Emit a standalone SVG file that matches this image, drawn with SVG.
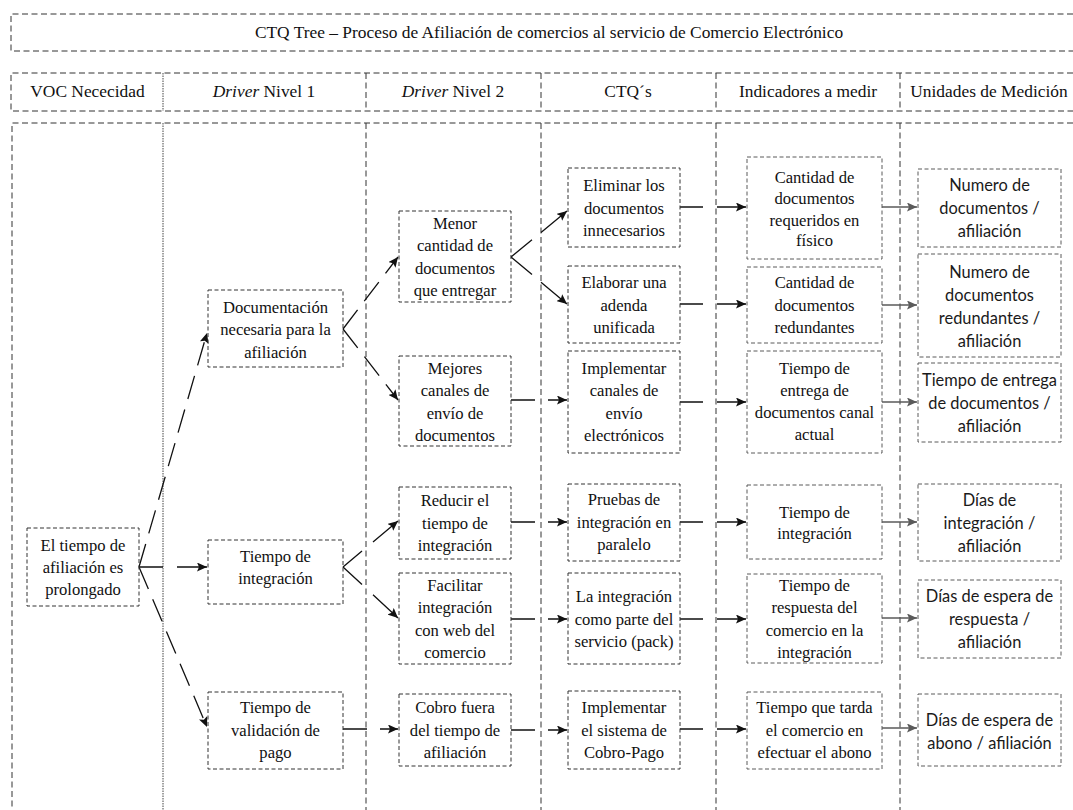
<svg xmlns="http://www.w3.org/2000/svg" width="1073" height="810" viewBox="0 0 1073 810">
  <style>
    .grid { fill: none; stroke: #333; stroke-width: 1; stroke-dasharray: 6 3.5; }
    .gridd { fill: none; stroke: #444; stroke-width: 1; stroke-dasharray: 1.5 1; }
    .box { fill: none; stroke: #333; stroke-width: 1; stroke-dasharray: 4 2.5; }
    .boxg { fill: none; stroke: #5a5a5a; stroke-width: 1; stroke-dasharray: 4 2.5; }
    .t { font-family: "Liberation Serif", "Times New Roman", serif; font-size: 16.6px; fill: #111; text-anchor: middle; }
    .h { font-family: "Liberation Serif", "Times New Roman", serif; font-size: 17.4px; fill: #111; text-anchor: middle; }
    .s { font-family: Lato, "Liberation Sans", sans-serif; font-size: 16.4px; fill: #1a1a1a; text-anchor: middle; }
    .c { fill: none; stroke: #111; stroke-width: 1.3; }
    .cl { fill: none; stroke: #111; stroke-width: 1.3; stroke-dasharray: 24 11; }
    .cg { fill: none; stroke: #5a5a5a; stroke-width: 1.3; }
  </style>
  <defs>
    <marker id="ah" markerUnits="userSpaceOnUse" markerWidth="11" markerHeight="9" refX="10" refY="4.5" orient="auto">
      <path d="M0,0 L10,4.5 L0,9 L2,4.5 z" fill="#111"/>
    </marker>
    <marker id="ahg" markerUnits="userSpaceOnUse" markerWidth="11" markerHeight="9" refX="10" refY="4.5" orient="auto">
      <path d="M0,0 L10,4.5 L0,9 L2,4.5 z" fill="#5a5a5a"/>
    </marker>
  </defs>
  <rect width="1073" height="810" fill="#fff"/>

  <!-- title band -->
  <g id="title">
    <path class="grid" d="M1073,14 H11 V51 H1073"/>
    <text class="h" x="549" y="38">CTQ Tree – Proceso de Afiliación de comercios al servicio de Comercio Electrónico</text>
  </g>

  <!-- column headers -->
  <g id="header">
    <path class="grid" d="M1073,73 H11 V111 H1073"/>
    <path class="gridd" d="M163,73 V111"/>
    <path class="grid" d="M366,73 V111 M541,73 V111 M716,73 V111 M900,73 V111"/>
    <text class="h" x="87.5" y="97">VOC Nececidad</text>
    <text class="h" x="264" y="97"><tspan font-style="italic">Driver</tspan> Nivel 1</text>
    <text class="h" x="453" y="97"><tspan font-style="italic">Driver</tspan> Nivel 2</text>
    <text class="h" x="628" y="97">CTQ´s</text>
    <text class="h" x="808" y="97">Indicadores a medir</text>
    <text class="h" x="989" y="97">Unidades de Medición</text>
  </g>

  <!-- body columns -->
  <g id="columns">
    <path class="grid" d="M1073,123 H12 V810"/>
    <path class="gridd" d="M163,123 V810"/>
    <path class="grid" d="M366,123 V810 M541,123 V810 M716,123 V810 M900,123 V810"/>
  </g>

  <!-- connectors -->
  <g id="connectors">
    <path class="cl" d="M139,567 L207,333" marker-end="url(#ah)"/>
    <path class="c" d="M139,567 H163 M177,567 H207" marker-end="url(#ah)"/>
    <path class="cl" d="M139,567 L207,727" marker-end="url(#ah)"/>

    <path class="cl" d="M343,329 L398,257" marker-end="url(#ah)"/>
    <path class="cl" d="M343,329 L398,400" marker-end="url(#ah)"/>
    <path class="c" d="M343,567 L362,551.1 M373,541.9 L398,521" marker-end="url(#ah)"/>
    <path class="c" d="M343,567 L362,584.6 M373,594.8 L398,618" marker-end="url(#ah)"/>
    <path class="c" d="M343,729 H367 M380,729 H398" marker-end="url(#ah)"/>

    <path class="c" d="M511,257 L532,239.8 M541,232.4 L567,211" marker-end="url(#ah)"/>
    <path class="c" d="M511,257 L532,274.6 M541,282.2 L567,304" marker-end="url(#ah)"/>
    <path class="c" d="M511,400 H535 M548,400 H567" marker-end="url(#ah)"/>
    <path class="c" d="M511,522 H535 M548,522 H567" marker-end="url(#ah)"/>
    <path class="c" d="M511,619 H535 M548,619 H567" marker-end="url(#ah)"/>
    <path class="c" d="M511,730 H535 M548,730 H567" marker-end="url(#ah)"/>

    <path class="c" d="M680,207 H703 M717,207 H746" marker-end="url(#ah)"/>
    <path class="c" d="M680,304 H703 M717,304 H746" marker-end="url(#ah)"/>
    <path class="c" d="M680,402 H703 M717,402 H746" marker-end="url(#ah)"/>
    <path class="c" d="M680,522 H703 M717,522 H746" marker-end="url(#ah)"/>
    <path class="c" d="M680,619 H703 M717,619 H746" marker-end="url(#ah)"/>
    <path class="c" d="M680,729 H703 M717,729 H746" marker-end="url(#ah)"/>

    <path class="cg" d="M882,207 H917" marker-end="url(#ahg)"/>
    <path class="cg" d="M882,305 H917" marker-end="url(#ahg)"/>
    <path class="cg" d="M882,402 H917" marker-end="url(#ahg)"/>
    <path class="cg" d="M882,522 H917" marker-end="url(#ahg)"/>
    <path class="cg" d="M882,618 H917" marker-end="url(#ahg)"/>
    <path class="cg" d="M882,728 H917" marker-end="url(#ahg)"/>
  </g>

  <!-- VOC -->
  <g id="voc">
    <rect class="box" x="27" y="528" width="112" height="78"/>
    <text class="t"><tspan x="83" y="550.5">El tiempo de</tspan><tspan x="83" y="572.5">afiliación es</tspan><tspan x="83" y="595">prolongado</tspan></text>
  </g>

  <!-- Driver nivel 1 -->
  <g id="d1-documentacion">
    <rect class="box" x="208" y="290" width="135" height="77"/>
    <text class="t"><tspan x="275.5" y="313">Documentación</tspan><tspan x="275.5" y="335.2">necesaria para la</tspan><tspan x="275.5" y="357.5">afiliación</tspan></text>
  </g>
  <g id="d1-integracion">
    <rect class="box" x="208" y="540" width="135" height="64"/>
    <text class="t"><tspan x="275.5" y="562">Tiempo de</tspan><tspan x="275.5" y="584">integración</tspan></text>
  </g>
  <g id="d1-validacion">
    <rect class="box" x="208" y="692" width="135" height="77"/>
    <text class="t"><tspan x="275.5" y="713.2">Tiempo de</tspan><tspan x="275.5" y="735.5">validación de</tspan><tspan x="275.5" y="757.8">pago</tspan></text>
  </g>

  <!-- Driver nivel 2 -->
  <g id="d2-menor">
    <rect class="box" x="399" y="211" width="112" height="91"/>
    <text class="t"><tspan x="455" y="229">Menor</tspan><tspan x="455" y="251.3">cantidad de</tspan><tspan x="455" y="273.7">documentos</tspan><tspan x="455" y="296">que entregar</tspan></text>
  </g>
  <g id="d2-mejores">
    <rect class="box" x="399" y="356" width="112" height="90"/>
    <text class="t"><tspan x="455" y="374">Mejores</tspan><tspan x="455" y="396.4">canales de</tspan><tspan x="455" y="418.7">envío de</tspan><tspan x="455" y="441">documentos</tspan></text>
  </g>
  <g id="d2-reducir">
    <rect class="box" x="399" y="487" width="112" height="72"/>
    <text class="t"><tspan x="455" y="506.2">Reducir el</tspan><tspan x="455" y="528.5">tiempo de</tspan><tspan x="455" y="550.8">integración</tspan></text>
  </g>
  <g id="d2-facilitar">
    <rect class="box" x="399" y="573" width="112" height="91"/>
    <text class="t"><tspan x="455" y="591">Facilitar</tspan><tspan x="455" y="613.4">integración</tspan><tspan x="455" y="635.7">con web del</tspan><tspan x="455" y="658">comercio</tspan></text>
  </g>
  <g id="d2-cobro">
    <rect class="box" x="399" y="694" width="112" height="72"/>
    <text class="t"><tspan x="455" y="713.2">Cobro fuera</tspan><tspan x="455" y="735.5">del tiempo de</tspan><tspan x="455" y="757.8">afiliación</tspan></text>
  </g>

  <!-- CTQs -->
  <g id="ctq-eliminar">
    <rect class="box" x="568" y="168" width="112" height="79"/>
    <text class="t"><tspan x="624" y="191.2">Eliminar los</tspan><tspan x="624" y="213.5">documentos</tspan><tspan x="624" y="235.8">innecesarios</tspan></text>
  </g>
  <g id="ctq-adenda">
    <rect class="box" x="568" y="266" width="112" height="77"/>
    <text class="t"><tspan x="624" y="288.2">Elaborar una</tspan><tspan x="624" y="310.5">adenda</tspan><tspan x="624" y="332.8">unificada</tspan></text>
  </g>
  <g id="ctq-canales">
    <rect class="box" x="568" y="351" width="112" height="102"/>
    <text class="t"><tspan x="624" y="374">Implementar</tspan><tspan x="624" y="396.4">canales de</tspan><tspan x="624" y="418.7">envío</tspan><tspan x="624" y="441">electrónicos</tspan></text>
  </g>
  <g id="ctq-pruebas">
    <rect class="box" x="568" y="484" width="112" height="77"/>
    <text class="t"><tspan x="624" y="505.2">Pruebas de</tspan><tspan x="624" y="527.5">integración en</tspan><tspan x="624" y="549.8">paralelo</tspan></text>
  </g>
  <g id="ctq-pack">
    <rect class="box" x="568" y="573" width="112" height="91"/>
    <text class="t"><tspan x="624" y="602.2">La integración</tspan><tspan x="624" y="624.5">como parte del</tspan><tspan x="624" y="646.8">servicio (pack)</tspan></text>
  </g>
  <g id="ctq-cobropago">
    <rect class="box" x="568" y="691" width="112" height="78"/>
    <text class="t"><tspan x="624" y="713.2">Implementar</tspan><tspan x="624" y="735.5">el sistema de</tspan><tspan x="624" y="757.8">Cobro-Pago</tspan></text>
  </g>

  <!-- Indicadores -->
  <g id="ind-fisico">
    <rect class="boxg" x="747" y="157" width="135" height="102"/>
    <text class="t"><tspan x="814.5" y="182.5">Cantidad de</tspan><tspan x="814.5" y="204">documentos</tspan><tspan x="814.5" y="225.5">requeridos en</tspan><tspan x="814.5" y="246">físico</tspan></text>
  </g>
  <g id="ind-redundantes">
    <rect class="boxg" x="747" y="267" width="135" height="76"/>
    <text class="t"><tspan x="814.5" y="288.2">Cantidad de</tspan><tspan x="814.5" y="310.5">documentos</tspan><tspan x="814.5" y="332.8">redundantes</tspan></text>
  </g>
  <g id="ind-entrega">
    <rect class="boxg" x="747" y="351" width="135" height="102"/>
    <text class="t"><tspan x="814.5" y="373.5">Tiempo de</tspan><tspan x="814.5" y="395.5">entrega de</tspan><tspan x="814.5" y="417.5">documentos canal</tspan><tspan x="814.5" y="440">actual</tspan></text>
  </g>
  <g id="ind-integracion">
    <rect class="boxg" x="747" y="485" width="135" height="74"/>
    <text class="t"><tspan x="814.5" y="517.5">Tiempo de</tspan><tspan x="814.5" y="539">integración</tspan></text>
  </g>
  <g id="ind-respuesta">
    <rect class="boxg" x="747" y="574" width="135" height="89"/>
    <text class="t"><tspan x="814.5" y="591">Tiempo de</tspan><tspan x="814.5" y="613.4">respuesta del</tspan><tspan x="814.5" y="635.7">comercio en la</tspan><tspan x="814.5" y="658">integración</tspan></text>
  </g>
  <g id="ind-abono">
    <rect class="boxg" x="747" y="692" width="135" height="77"/>
    <text class="t"><tspan x="814.5" y="713.2">Tiempo que tarda</tspan><tspan x="814.5" y="735.5">el comercio en</tspan><tspan x="814.5" y="757.8">efectuar el abono</tspan></text>
  </g>

  <!-- Unidades de medición -->
  <g id="um-documentos">
    <rect class="boxg" x="918" y="169" width="143" height="78"/>
    <text class="s"><tspan x="989.5" y="191">Numero de</tspan><tspan x="989.5" y="214">documentos /</tspan><tspan x="989.5" y="237">afiliación</tspan></text>
  </g>
  <g id="um-redundantes">
    <rect class="boxg" x="918" y="254" width="143" height="103"/>
    <text class="s"><tspan x="989.5" y="277.5">Numero de</tspan><tspan x="989.5" y="300.5">documentos</tspan><tspan x="989.5" y="323.5">redundantes /</tspan><tspan x="989.5" y="346.5">afiliación</tspan></text>
  </g>
  <g id="um-entrega">
    <rect class="boxg" x="918" y="363" width="143" height="79"/>
    <text class="s"><tspan x="989.5" y="386">Tiempo de entrega</tspan><tspan x="989.5" y="409">de documentos /</tspan><tspan x="989.5" y="432">afiliación</tspan></text>
  </g>
  <g id="um-integracion">
    <rect class="boxg" x="918" y="484" width="143" height="77"/>
    <text class="s"><tspan x="989.5" y="506">Días de</tspan><tspan x="989.5" y="529">integración /</tspan><tspan x="989.5" y="552">afiliación</tspan></text>
  </g>
  <g id="um-respuesta">
    <rect class="boxg" x="918" y="580" width="143" height="78"/>
    <text class="s"><tspan x="989.5" y="602">Días de espera de</tspan><tspan x="989.5" y="625">respuesta /</tspan><tspan x="989.5" y="648">afiliación</tspan></text>
  </g>
  <g id="um-abono">
    <rect class="boxg" x="918" y="694" width="143" height="72"/>
    <text class="s"><tspan x="989.5" y="725.5">Días de espera de</tspan><tspan x="989.5" y="748.5">abono / afiliación</tspan></text>
  </g>
</svg>
